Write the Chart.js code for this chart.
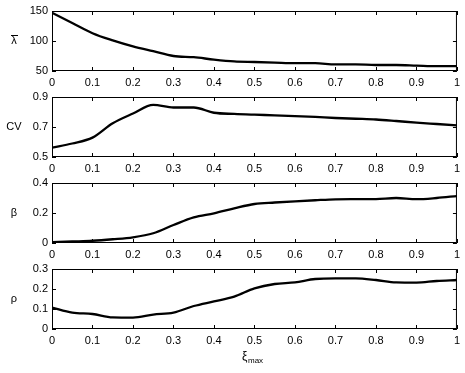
<!DOCTYPE html>
<html>
<head>
<meta charset="utf-8">
<script src="https://cdn.jsdelivr.net/npm/chart.js@4.4.1/dist/chart.umd.min.js"></script>
<style>
html, body { margin: 0; padding: 0; background: #fff; }
#wrap { position: relative; width: 465px; height: 373px; overflow: hidden; }
canvas { position: absolute; left: 0; }
</style>
</head>
<body>
<div id="wrap">
  <canvas id="c0" width="465" height="86" style="top:0px"></canvas>
  <canvas id="c1" width="465" height="86" style="top:86px"></canvas>
  <canvas id="c2" width="465" height="86" style="top:172px"></canvas>
  <canvas id="c3" width="465" height="115" style="top:258px"></canvas>
</div>
<script>
// valeurs
const xiMax = [0, 0.05, 0.1, 0.15, 0.2, 0.25, 0.3, 0.35, 0.4, 0.45, 0.5, 0.55, 0.6, 0.65, 0.7, 0.75, 0.8, 0.85, 0.9, 0.95, 1];
const lambdaMoy = [147, 130, 113, 101, 91, 83, 75, 73, 69, 66, 65, 64, 63, 63, 61, 61, 60, 60, 59, 58, 58];
const cv = [0.562, 0.59, 0.629, 0.725, 0.79, 0.847, 0.83, 0.83, 0.795, 0.787, 0.782, 0.778, 0.773, 0.767, 0.76, 0.755, 0.75, 0.74, 0.729, 0.72, 0.711];
const beta = [0.005, 0.01, 0.015, 0.025, 0.038, 0.065, 0.12, 0.171, 0.198, 0.231, 0.26, 0.27, 0.278, 0.285, 0.291, 0.292, 0.293, 0.3, 0.292, 0.3, 0.313];
const rho = [0.107, 0.082, 0.075, 0.058, 0.057, 0.072, 0.082, 0.115, 0.138, 0.162, 0.203, 0.225, 0.233, 0.25, 0.253, 0.253, 0.245, 0.233, 0.232, 0.24, 0.245];

const xTicks = [0, 0.1, 0.2, 0.3, 0.4, 0.5, 0.6, 0.7, 0.8, 0.9, 1];
const lambdaTicks = [50, 100, 150];
const cvTicks = [0.5, 0.7, 0.9];
const betaTicks = [0, 0.2, 0.4];
const rhoTicks = [0, 0.1, 0.2, 0.3];

const famille = "'Liberation Sans', Arial, sans-serif";

const cadre = {
    id: "cadre",
    afterDraw(chart, args, opts) {
        const ctx = chart.ctx;
        const a = chart.chartArea;
        const sx = chart.scales.x;
        const sy = chart.scales.y;
        ctx.save();
        ctx.strokeStyle = "#000";
        ctx.lineWidth = 1;
        ctx.strokeRect(a.left + 0.5, a.top + 0.5, a.right - a.left - 1, a.bottom - a.top - 1);
        ctx.beginPath();
        sx.ticks.forEach(t => {
            const px = Math.round(sx.getPixelForValue(t.value)) + 0.5;
            ctx.moveTo(px, a.bottom); ctx.lineTo(px, a.bottom - 4);
            ctx.moveTo(px, a.top); ctx.lineTo(px, a.top + 4);
        });
        sy.ticks.forEach(t => {
            const py = Math.round(sy.getPixelForValue(t.value)) + 0.5;
            ctx.moveTo(a.left, py); ctx.lineTo(a.left + 4, py);
            ctx.moveTo(a.right, py); ctx.lineTo(a.right - 4, py);
        });
        ctx.stroke();
        ctx.fillStyle = "#000";
        ctx.font = "11px " + famille;
        ctx.textAlign = "center";
        ctx.textBaseline = "middle";
        const ym = (a.top + a.bottom) / 2;
        ctx.fillText(opts.label, 14, ym);
        if (opts.barre) {
            // barre au-dessus du lambda
            ctx.beginPath();
            ctx.moveTo(11, Math.round(ym) - 5.5);
            ctx.lineTo(18, Math.round(ym) - 5.5);
            ctx.stroke();
        }
        if (opts.xlabel) {
            ctx.textAlign = "left";
            ctx.textBaseline = "alphabetic";
            ctx.font = "12px " + famille;
            ctx.fillText("ξ", 242, 102);
            ctx.font = "8px " + famille;
            ctx.fillText("max", 248, 105);
        }
        ctx.restore();
    }
};

function creerGraphe(id, valeurs, yMin, yMax, yTicks, label, barre, dernier) {
    return new Chart(document.getElementById(id).getContext("2d"), {
        type: "line",
        data: {
            datasets: [{
                data: xiMax.map((x, i) => ({ x: x, y: valeurs[i] })),
                borderColor: "#000",
                borderWidth: 2.3,
                pointRadius: 0,
                cubicInterpolationMode: "monotone",
                fill: false
            }]
        },
        options: {
            responsive: false,
            animation: false,
            devicePixelRatio: 1,
            layout: { padding: { left: 0, top: 11, right: 7, bottom: dernier ? 29 : 0 } },
            plugins: {
                legend: { display: false },
                tooltip: { enabled: false },
                cadre: { label: label, barre: barre, xlabel: dernier }
            },
            scales: {
                x: {
                    type: "linear",
                    min: 0,
                    max: 1,
                    afterBuildTicks: s => { s.ticks = xTicks.map(v => ({ value: v })); },
                    afterFit: s => { s.height = 15; },
                    grid: { display: false, drawTicks: false },
                    border: { display: false },
                    ticks: {
                        autoSkip: false,
                        maxRotation: 0,
                        padding: 5,
                        color: "#000",
                        font: { family: famille, size: 11 },
                        callback: v => String(v)
                    }
                },
                y: {
                    type: "linear",
                    min: yMin,
                    max: yMax,
                    afterBuildTicks: s => { s.ticks = yTicks.map(v => ({ value: v })); },
                    afterFit: s => { s.width = 52; },
                    grid: { display: false, drawTicks: false },
                    border: { display: false },
                    ticks: {
                        padding: 4,
                        color: "#000",
                        font: { family: famille, size: 11 },
                        callback: v => String(v)
                    }
                }
            }
        },
        plugins: [cadre]
    });
}

creerGraphe("c0", lambdaMoy, 50, 150, lambdaTicks, "λ", true, false);
creerGraphe("c1", cv, 0.5, 0.9, cvTicks, "CV", false, false);
creerGraphe("c2", beta, 0, 0.4, betaTicks, "β", false, false);
creerGraphe("c3", rho, 0, 0.3, rhoTicks, "ρ", false, true);
</script>
</body>
</html>
